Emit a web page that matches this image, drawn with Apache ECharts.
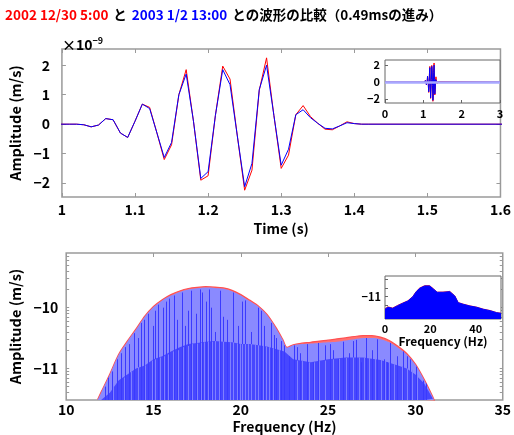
<!DOCTYPE html>
<html><head><meta charset="utf-8">
<script src="https://cdn.jsdelivr.net/npm/echarts@6/dist/echarts.min.js"></script>
<style>html,body{margin:0;padding:0;background:#fff}#c{width:514px;height:435px}</style>
</head><body><div id="c"></div>
<script>
// ---- waveform (x 1e-9 m/s) ----
const times = [1.00,1.01,1.02,1.03,1.04,1.05,1.06,1.07,1.08,1.09,1.10,1.11,1.12,1.13,1.14,1.15,1.16,1.17,1.18,1.19,1.20,1.21,1.22,1.23,1.24,1.25,1.26,1.27,1.28,1.29,1.30,1.31,1.32,1.33,1.34,1.35,1.36,1.37,1.38,1.39,1.40,1.41,1.42];
const wave2003 = [0,0,0,-0.02,-0.09,-0.03,0.19,0.15,-0.30,-0.45,0.10,0.68,0.53,-0.30,-1.13,-0.62,1.00,1.70,0.10,-1.84,-1.61,0.30,1.85,1.34,-0.40,-2.12,-1.33,1.17,2.00,0.30,-1.39,-0.85,0.32,0.49,0.22,0.03,-0.14,-0.16,-0.06,0.05,0.02,0,0];
const wave2002 = [0,0,0,-0.02,-0.09,-0.03,0.19,0.15,-0.30,-0.45,0.10,0.68,0.57,-0.30,-1.20,-0.70,1.00,1.85,0.10,-1.90,-1.75,0.30,1.97,1.53,-0.40,-2.24,-1.56,1.15,2.25,0.30,-1.50,-1.05,0.32,0.63,0.26,0.03,-0.17,-0.19,-0.06,0.08,0.02,0,0];
const recordStart = 0, recordEnd = 3;
const timeTicks = [1,1.1,1.2,1.3,1.4,1.5,1.6];
const ampTicks = [-2,-1,0,1,2];
const insetTimeTicks = [0,1,2,3];
const insetAmpTicks = [-2,0,2];

// ---- spectrum (log10 amplitude) ----
const freqs = [11.8,12.0,12.5,13.0,13.5,14.0,14.5,15.0,15.5,16.0,16.5,17.0,17.5,18.0,18.5,19.0,19.5,20.0,20.5,21.0,21.5,22.0,22.4,22.65,23.0,23.5,24.0,24.5,25.0,25.5,26.0,26.5,27.0,27.5,28.0,28.5,29.0,29.5,30.0,30.5,31.0,31.1];
const spec2003 = [-11.52,-11.40,-11.10,-10.78,-10.56,-10.36,-10.15,-9.99,-9.88,-9.80,-9.74,-9.70,-9.68,-9.67,-9.675,-9.69,-9.73,-9.80,-9.89,-9.98,-10.12,-10.33,-10.53,-10.66,-10.62,-10.60,-10.59,-10.58,-10.57,-10.56,-10.54,-10.52,-10.50,-10.50,-10.52,-10.57,-10.66,-10.77,-10.94,-11.19,-11.48,-11.55];
const spec2002 = [-11.51,-11.39,-11.09,-10.77,-10.55,-10.35,-10.14,-9.98,-9.87,-9.785,-9.725,-9.685,-9.665,-9.655,-9.66,-9.675,-9.715,-9.785,-9.875,-9.97,-10.11,-10.32,-10.52,-10.655,-10.61,-10.585,-10.57,-10.55,-10.535,-10.515,-10.495,-10.475,-10.46,-10.46,-10.485,-10.54,-10.635,-10.755,-10.93,-11.18,-11.47,-11.54];
const denseFreqs = [12.0,12.5,13.0,13.5,14.0,14.5,15.0,15.5,16.0,16.5,17.0,17.5,18.0,18.5,19.0,19.5,20.0,20.5,21.0,21.5,22.0,22.5,23.0,24.0,25.0,26.0,27.0,28.0,29.0,29.5,30.0,30.5,31.0];
const denseTop = [-11.52,-11.4,-11.2,-11.1,-11.0,-10.95,-10.85,-10.8,-10.72,-10.65,-10.6,-10.58,-10.56,-10.55,-10.56,-10.57,-10.6,-10.6,-10.62,-10.64,-10.68,-10.72,-10.85,-10.9,-10.85,-10.82,-10.82,-10.86,-10.95,-11.0,-11.1,-11.25,-11.5];
const stripeFreqDark = [12.2,12.42,12.65,12.92,13.15,13.39,13.6,13.91,14.1,14.29,14.45,14.66,14.98,15.1,15.26,15.54,15.73,15.9,16.2,16.35,16.61,16.8,16.95,17.13,17.42,17.66,17.8,17.98,18.17,18.3,18.54,18.82,19.0,19.2,19.57,19.85,20.05,20.22,20.6,20.97,21.15,21.35,21.72,21.9,22.0,22.29,22.5,22.75,23.03,23.2,23.41,23.78,24.16,24.44,24.8,25.09,25.3,25.56,25.84,26.22,26.4,26.59,26.87,27.15,27.53,27.81,28.18,28.4,28.56,28.93,29.31,29.5,29.68,30.06,30.43,30.6];
const stripeTopDark = [-11.3,-11.15,-11.05,-10.85,-10.75,-10.65,-10.6,-10.42,-10.5,-10.25,-10.2,-10.1,-10.3,-10.05,-9.95,-10.0,-9.9,-9.85,-9.8,-10.2,-9.75,-10.3,-10.05,-9.72,-10.1,-9.7,-9.75,-9.9,-9.7,-10.0,-10.4,-9.72,-10.15,-10.2,-9.75,-10.3,-9.9,-9.88,-10.4,-10.0,-10.05,-10.3,-10.25,-10.45,-10.5,-10.55,-10.62,-10.8,-10.62,-10.65,-10.75,-10.6,-10.9,-10.58,-10.62,-10.6,-10.7,-10.85,-10.56,-10.75,-10.55,-10.53,-10.9,-10.5,-10.7,-10.52,-10.85,-10.9,-10.58,-10.8,-10.72,-10.8,-10.85,-10.97,-11.2,-11.25];
const stripeFreqLight = [12.7,13.3,13.7,14.14,14.5,14.89,15.1,15.36,15.6,15.82,16.1,16.42,16.7,16.95,17.2,17.47,17.7,17.88,18.1,18.35,18.55,18.73,19.0,19.38,19.55,19.76,19.95,20.04,20.25,20.41,20.6,20.79,21.0,21.25,21.45,21.63,21.85,22.2,23.2,23.5,23.9,24.2,24.5,24.8,25.28,25.6,26.03,26.4,26.78,27.05,27.34,27.7,28.0,28.25,28.47,28.8,29.21,29.5,29.78,30.1];
const stripeTopLight = [-11.3,-11.15,-11.05,-10.98,-10.95,-10.87,-10.85,-10.82,-10.8,-10.77,-10.72,-10.7,-10.65,-10.63,-10.6,-10.59,-10.58,-10.57,-10.56,-10.56,-10.55,-10.55,-10.56,-10.57,-10.57,-10.59,-10.6,-10.6,-10.6,-10.6,-10.6,-10.61,-10.62,-10.63,-10.64,-10.65,-10.67,-10.7,-10.87,-10.88,-10.9,-10.9,-10.88,-10.87,-10.85,-10.84,-10.83,-10.82,-10.82,-10.82,-10.83,-10.84,-10.86,-10.88,-10.9,-10.93,-10.96,-11.0,-11.02,-11.1];
const freqTicks = [10,15,20,25,30,35];
const specMajorTicks = [-11,-10];
const specMinorTicks = [-11.398,-11.301,-11.222,-11.155,-11.097,-11.046,-11,-10.699,-10.523,-10.398,-10.301,-10.222,-10.155,-10.097,-10.046,-10,-9.699,-9.523,-9.398,-9.301,-9.222,-9.155];
// inset spectrum 0-51.2 Hz
const insetFreqs = [0,1.2,3.4,5.6,7.8,10.1,12.3,13.8,15.3,17.5,19.7,21.5,23.0,25.6,28.6,30.8,32.3,34.5,37.5,40.4,43.4,46.4,49.3,51.2];
const insetSpec2003 = [-12.43,-12.2,-12.32,-12.02,-11.75,-11.49,-11.0,-10.43,-10.05,-9.78,-9.78,-10.16,-10.5,-10.5,-10.43,-10.92,-11.68,-11.86,-12.06,-12.2,-12.43,-12.59,-12.82,-12.89];
const insetSpec2002 = [-12.38,-12.15,-12.28,-11.98,-11.72,-11.46,-10.97,-10.4,-10.02,-9.74,-9.74,-10.13,-10.48,-10.47,-10.4,-10.9,-11.66,-11.84,-12.04,-12.18,-12.41,-12.57,-12.8,-12.87];
const insetFreqTicks = [0,20,40];
const insetSpecTicks = [-13,-12,-11,-10,-9];
const insetSpecLabels = [-11];

const FONT = "'Noto Sans CJK JP','Noto Sans',sans-serif";
const zip = (a,b) => a.map((v,i)=>[v,b[i]]);
const withRecord = (vals) => [[recordStart,0]].concat(zip(times, vals)).concat([[recordEnd,0]]);
const minus = v => String(v).replace('-', '\u2212');
const AX = '#9a9a9a';
const lab = (size, extra) => Object.assign({fontFamily:FONT, fontWeight:'bold', fontSize:size, color:'#000'}, extra||{});

function valAxis(o) {
  return Object.assign({
    type:'value', splitLine:{show:false},
    axisLine:{show:false, onZero:false},
  }, o);
}
function stripeRender(color) {
  return function(params, api) {
    const f = api.value(0), h = api.value(1);
    const top = api.coord([f, h]);
    const cs = params.coordSys;
    const x = Math.round(top[0]) + 0.5;
    return {type:'line', shape:{x1:x, y1:cs.y + cs.height, x2:x, y2:top[1]},
      style:{stroke:color, lineWidth:1}};
  };
}

const chart = echarts.init(document.getElementById('c'), null, {renderer:'canvas'});
chart.setOption({
  animation:false,
  backgroundColor:'#fff',
  title:[{
    left:0, top:1,
    text:'{r|2002 12/30 5:00} {k|と} {b|2003 1/2 13:00} {k|との波形の比較（0.49msの進み）}',
    textStyle:{rich:{
      r:lab(13.5,{color:'#ff0000'}), b:lab(13.5,{color:'#0000ff'}), k:lab(13.5,{color:'#000', letterSpacing:-0.8})
    }}
  },{
    left:57, top:31,
    text:'×10{s|−9}',
    textStyle:lab(14,{rich:{s:lab(9,{verticalAlign:'top', padding:[0,0,9,0]})}})
  }],
  grid:[
    {left:58, right:11, top:49, height:148, show:true, borderColor:AX, borderWidth:1.5, backgroundColor:'#fff'},
    {left:58, right:11, top:253, height:148, show:true, borderColor:AX, borderWidth:1.5, backgroundColor:'#fff'},
    {left:385, width:115, top:60, height:43, show:true, borderColor:'#666', borderWidth:1, backgroundColor:'#fff', z:10},
    {left:385, width:116, top:276, height:43, show:true, borderColor:'#666', borderWidth:1, backgroundColor:'#fff', z:10}
  ],
  xAxis:[
    valAxis({gridIndex:0, min:1, max:1.6, name:'Time (s)', nameLocation:'middle', nameGap:25, nameTextStyle:lab(14),
      axisTick:{inside:true, length:4, lineStyle:{color:AX}, customValues:timeTicks},
      axisLabel:lab(14,{margin:6, customValues:timeTicks, formatter:v=>String(Math.round(v*10)/10)})}),
    valAxis({gridIndex:0, min:1, max:1.6, position:'top',
      axisTick:{inside:true, length:4, lineStyle:{color:AX}, customValues:timeTicks}, axisLabel:{show:false}}),
    valAxis({gridIndex:1, min:10, max:35, name:'Frequency (Hz)', nameLocation:'middle', nameGap:20, nameTextStyle:lab(14),
      axisTick:{inside:true, length:4, lineStyle:{color:AX}, customValues:freqTicks},
      axisLabel:lab(14,{margin:3, customValues:freqTicks})}),
    valAxis({gridIndex:1, min:10, max:35, position:'top',
      axisTick:{inside:true, length:4, lineStyle:{color:AX}, customValues:freqTicks}, axisLabel:{show:false}}),
    valAxis({gridIndex:2, min:0, max:3, z:10,
      axisTick:{inside:true, length:3, lineStyle:{color:'#666'}, customValues:insetTimeTicks},
      axisLabel:lab(11,{margin:5, customValues:insetTimeTicks})}),
    valAxis({gridIndex:3, min:0, max:51.2, z:10, name:'Frequency (Hz)', nameLocation:'middle', nameGap:16, nameTextStyle:lab(12),
      axisTick:{inside:true, length:3, lineStyle:{color:'#666'}, customValues:insetFreqTicks},
      axisLabel:lab(11,{margin:4, customValues:insetFreqTicks})})
  ],
  yAxis:[
    valAxis({gridIndex:0, min:-2.47, max:2.55, name:'Amplitude (m/s)', nameLocation:'middle', nameRotate:90, nameGap:28, nameTextStyle:lab(14.5),
      axisTick:{inside:true, length:4, lineStyle:{color:AX}, customValues:ampTicks},
      axisLabel:lab(14,{margin:12, customValues:ampTicks, formatter:minus})}),
    valAxis({gridIndex:0, min:-2.47, max:2.55, position:'right',
      axisTick:{inside:true, length:4, lineStyle:{color:AX}, customValues:ampTicks}, axisLabel:{show:false}}),
    valAxis({gridIndex:1, min:-11.52, max:-9.1, name:'Amplitude (m/s)', nameLocation:'middle', nameRotate:90, nameGap:28, nameTextStyle:lab(14.5),
      axisTick:{inside:true, length:3, lineStyle:{color:AX}, customValues:specMinorTicks},
      axisLabel:lab(14,{margin:8, customValues:specMajorTicks, formatter:minus})}),
    valAxis({gridIndex:1, min:-11.52, max:-9.1, position:'right',
      axisTick:{inside:true, length:3, lineStyle:{color:AX}, customValues:specMinorTicks}, axisLabel:{show:false}}),
    valAxis({gridIndex:2, min:-2.44, max:2.6, z:10,
      axisTick:{inside:true, length:3, lineStyle:{color:'#666'}, customValues:insetAmpTicks},
      axisLabel:lab(11,{margin:5, customValues:insetAmpTicks, formatter:minus})}),
    valAxis({gridIndex:3, min:-13.53, max:-8.65, z:10,
      axisTick:{inside:true, length:3, lineStyle:{color:'#666'}, customValues:insetSpecTicks},
      axisLabel:lab(11,{margin:4, customValues:insetSpecLabels, formatter:minus})})
  ],
  series:[
    {type:'line', xAxisIndex:0, yAxisIndex:0, data:withRecord(wave2002), symbol:'none', clip:true,
      lineStyle:{color:'#ff0000', width:1}, z:2},
    {type:'line', xAxisIndex:0, yAxisIndex:0, data:withRecord(wave2003), symbol:'none', clip:true,
      lineStyle:{color:'#0000ff', width:1}, z:3},
    // spectrum
    {type:'line', xAxisIndex:2, yAxisIndex:2, data:zip(freqs, spec2002), symbol:'none', smooth:0.3, clip:true,
      lineStyle:{color:'#ff5050', width:1.2}, areaStyle:{color:'#ff7070', opacity:1, origin:'start'}, z:2},
    {type:'line', xAxisIndex:2, yAxisIndex:2, data:zip(freqs, spec2003), symbol:'none', smooth:0.3, clip:true,
      lineStyle:{width:0}, areaStyle:{color:'#8a8aff', opacity:1, origin:'start'}, z:3},
    {type:'line', xAxisIndex:2, yAxisIndex:2, data:zip(denseFreqs, denseTop), symbol:'none', clip:true,
      lineStyle:{width:0}, areaStyle:{color:'#4747ff', opacity:1, origin:'start'}, z:4},
    {type:'custom', xAxisIndex:2, yAxisIndex:2, data:zip(stripeFreqDark, stripeTopDark), clip:true,
      renderItem:stripeRender('#3a3aff'), z:5},
    {type:'custom', xAxisIndex:2, yAxisIndex:2, data:zip(stripeFreqLight, stripeTopLight), clip:true,
      renderItem:stripeRender('#8080ff'), z:6},
    // inset waveform
    {type:'line', xAxisIndex:4, yAxisIndex:4, data:withRecord(wave2002), symbol:'none', clip:true,
      lineStyle:{color:'#ff0000', width:1}, z:11},
    {type:'line', xAxisIndex:4, yAxisIndex:4, data:withRecord(wave2003), symbol:'none', clip:true,
      lineStyle:{color:'#0000ff', width:1}, z:12,
      markLine:{silent:true, z:20, symbol:'none', label:{show:false}, lineStyle:{color:'#a8a8ff', width:2.5, type:'solid', opacity:1}, data:[{yAxis:0}]}},
    // inset spectrum
    {type:'line', xAxisIndex:5, yAxisIndex:5, data:zip(insetFreqs, insetSpec2002), symbol:'none', clip:true,
      lineStyle:{color:'#ff3030', width:1}, z:11},
    {type:'line', xAxisIndex:5, yAxisIndex:5, data:zip(insetFreqs, insetSpec2003), symbol:'none', clip:true,
      lineStyle:{color:'#0000ff', width:1}, areaStyle:{color:'#0000ff', opacity:1, origin:'start'}, z:12}
  ]
});
</script></body></html>
